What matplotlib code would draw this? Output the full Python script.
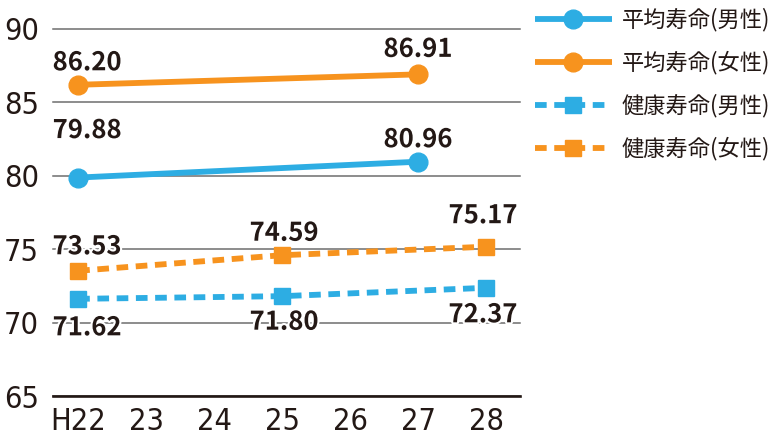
import matplotlib
matplotlib.use("Agg")
import matplotlib.pyplot as plt
import matplotlib.patheffects as pe

plt.rcParams['font.family'] = ['Noto Sans CJK JP', 'DejaVu Sans']

categories = ["H22", "23", "24", "25", "26", "27", "28"]
avg_male_idx = [0, 5]
avg_male = [79.88, 80.96]
avg_female_idx = [0, 5]
avg_female = [86.20, 86.91]
healthy_idx = [0, 3, 6]
healthy_male = [71.62, 71.80, 72.37]
healthy_female = [73.53, 74.59, 75.17]
labels = ["平均寿命(男性)", "平均寿命(女性)", "健康寿命(男性)", "健康寿命(女性)"]
yticks = [65, 70, 75, 80, 85, 90]

BLUE = "#2DADE3"
ORANGE = "#F7931E"
TXT = "#231815"

fig = plt.figure(figsize=(7.71, 4.37), dpi=100)
ax = fig.add_axes([53/771, 1-396/437, (520-53)/771, (396-29)/437])

lw = 4.2
l1, = ax.plot(avg_male_idx, avg_male, color=BLUE, lw=lw, marker='o', ms=13.5,
              solid_capstyle='butt', zorder=3)
l2, = ax.plot(avg_female_idx, avg_female, color=ORANGE, lw=lw, marker='o', ms=13.5,
              solid_capstyle='butt', zorder=3)
l3, = ax.plot(healthy_idx, healthy_male, color=BLUE, lw=lw, marker='s', ms=12,
              dashes=(2.0, 1.3), dash_capstyle='butt', zorder=3)
l4, = ax.plot(healthy_idx, healthy_female, color=ORANGE, lw=lw, marker='s', ms=12,
              dashes=(2.0, 1.3), dash_capstyle='butt', zorder=3)

def lab(x, v, dx, dy):
    ax.annotate(f"{v:.2f}", xy=(x, v), xytext=(dx*0.72, -dy*0.72),
                textcoords='offset points', ha='center', va='center',
                fontsize=18.5, fontweight='bold', color=TXT, zorder=5,
                path_effects=[pe.withStroke(linewidth=3, foreground='white')])

offs_avg_f = [(9, -22), (0, -25)]
offs_avg_m = [(9, -47), (0, -22)]
offs_h_f = [(9, -24), (2, -22), (-3, -31)]
offs_h_m = [(9, 29), (2, 26), (-3, 27)]
for x, v, (dx, dy) in zip(avg_female_idx, avg_female, offs_avg_f):
    lab(x, v, dx, dy)
for x, v, (dx, dy) in zip(avg_male_idx, avg_male, offs_avg_m):
    lab(x, v, dx, dy)
for x, v, (dx, dy) in zip(healthy_idx, healthy_female, offs_h_f):
    lab(x, v, dx, dy)
for x, v, (dx, dy) in zip(healthy_idx, healthy_male, offs_h_m):
    lab(x, v, dx, dy)

ax.set_xlim(-0.37, 6.5)
ax.set_ylim(65, 90)
ax.set_xticks(range(len(categories)))
ax.set_xticklabels(categories)
ax.set_yticks(yticks)
ax.set_yticklabels([str(t) for t in yticks])
ax.tick_params(length=0, labelcolor=TXT)
ax.tick_params(axis='y', pad=10)
ax.tick_params(axis='x', pad=8)
for t in ax.get_xticklabels() + ax.get_yticklabels():
    t.set_family(['DejaVu Sans'])
    t.set_stretch('condensed')
    t.set_fontsize(22)

ax.grid(axis='y', color='#6E6E6E', lw=1.1)
ax.set_axisbelow(True)
for gl in ax.get_ygridlines():
    gl.set_clip_on(False)
for s in ['top', 'right', 'left']:
    ax.spines[s].set_visible(False)
ax.spines['bottom'].set_color(TXT)
ax.spines['bottom'].set_linewidth(1.9)

fig.legend([l1, l2, l3, l4], labels, loc='upper left',
           bbox_to_anchor=(535/771, 1-8/437), frameon=False,
           fontsize=16, handlelength=3.45, handletextpad=0.45,
           labelspacing=0.87, borderpad=0, borderaxespad=0,
           labelcolor=TXT)

fig.savefig("out.png", dpi=100)
